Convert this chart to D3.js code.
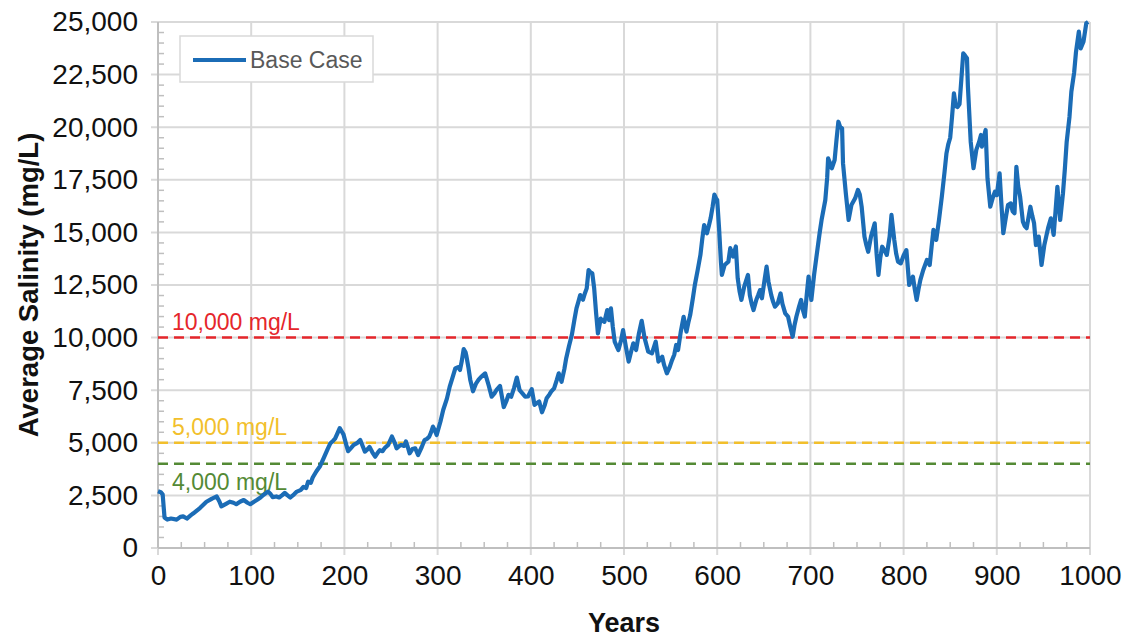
<!DOCTYPE html>
<html>
<head>
<meta charset="utf-8">
<script src="https://cdn.jsdelivr.net/npm/d3@7"></script>
<style>
  html, body { margin: 0; padding: 0; background: #fff; }
  svg { display: block; font-family: "Liberation Sans", Arial, sans-serif; }
</style>
</head>
<body>
<svg id="chart" width="1128" height="637"></svg>
<script>
// Simulated average salinity, base case
const years = [0,3,5,7,10,14,20,24,27,31,35,38,45,52,58,63,66,68,73,77,81,84,88,92,96,99,103,106,110,113,118,121,123,127,130,133,136,139,142,146,149,153,156,159,161,164,166,170,174,178,182,185,188,190,193,195,197,199,202,204,207,210,214,217,220,222,225,227,230,233,236,238,241,243,247,251,254,256,259,261,264,266,268,270,273,276,279,283,286,289,291,293,295,297,299,303,306,310,313,316,319,322,324,326,328,330,331,333,335,338,341,344,347,351,353,355,358,361,363,367,369,371,374,376,379,382,385,388,391,394,397,401,404,407,409,412,415,417,420,422,425,428,430,433,436,438,441,444,447,449,451,453,456,458,460,462,464,466,468,470,472,475,477,479,482,484,486,488,490,492,494,497,499,502,505,508,510,513,516,519,522,526,530,534,537,541,543,546,549,551,554,556,558,561,564,567,569,571,574,576,579,582,584,586,589,591,593,595,597,599,600,602,604,605,608,612,614,617,620,622,624,626,629,633,635,637,639,642,644,646,648,651,653,655,658,660,662,665,668,670,673,676,678,681,683,685,688,690,692,694,696,698,701,704,707,710,712,716,718,719,721,723,726,728,730,732,734,735,738,741,744,748,751,753,755,758,760,762,765,769,771,773,775,777,780,782,785,787,790,792,794,797,800,803,806,808,810,812,814,816,818,821,825,828,830,832,835,838,841,844,846,848,850,852,854,856,858,860,862,864,866,868,869,872,875,878,881,883,884,886,888,890,893,896,898,900,903,905,907,910,912,915,917,919,921,923,925,928,930,932,934,936,938,940,942,945,948,951,953,955,958,961,963,965,968,971,973,975,978,980,983,985,988,990,993,996,998];
const salinity = [2700,2650,2550,1450,1350,1400,1350,1480,1500,1400,1550,1650,1900,2200,2350,2450,2200,1980,2100,2200,2150,2080,2200,2280,2150,2080,2200,2280,2400,2520,2680,2550,2420,2450,2400,2500,2620,2500,2400,2550,2680,2750,2900,2850,3150,3100,3350,3650,3900,4300,4700,4980,5100,5200,5500,5700,5550,5400,4900,4600,4750,4900,5000,5130,4800,4580,4700,4800,4550,4340,4550,4650,4600,4740,4900,5300,5000,4740,4850,4900,4850,5060,4800,4500,4700,4740,4420,4800,5130,5200,5290,5500,5770,5600,5370,6000,6560,7100,7670,8100,8540,8600,8460,8900,9450,9300,9100,8600,8000,7450,7800,8000,8150,8300,8000,7700,7190,7350,7500,7700,7200,6700,7000,7280,7190,7600,8100,7500,7350,7190,7200,7550,6800,6900,6960,6450,6800,7120,7300,7440,7590,8000,8300,7900,8500,9020,9600,10120,10900,11390,11700,12020,11800,12100,12340,13210,13100,13050,12340,11200,10200,10900,10800,10750,11310,10830,11390,10500,9810,9600,9410,9900,10360,9570,8860,9400,9730,9410,10200,10800,10000,9330,9250,9810,8860,9090,8700,8300,8600,8860,9200,9650,9410,10300,10990,10280,10700,11070,11900,12500,13200,13930,14700,15350,14960,15300,15680,16200,16800,16600,16540,15200,13600,12980,13450,13610,14250,13850,14330,12820,12200,11790,12420,12980,12020,11600,11310,11800,12020,12260,11870,12800,13370,12660,12020,11700,11470,11630,12100,11600,11150,11000,10600,10040,10600,11000,11500,11790,11300,11000,12000,12900,11790,13000,14010,15000,15590,16540,17600,18520,18300,18050,18440,19400,20260,20000,19950,18280,16860,15590,16300,16620,17020,16800,16220,14800,14400,14080,14800,15430,14000,12980,13800,14320,14100,13930,14800,15830,14640,14000,13610,13530,13900,14160,12500,12700,12900,12300,11790,12300,12740,13200,13690,13450,14300,15120,14640,15600,16700,17900,18760,19200,19500,20500,21610,21000,20960,21100,22300,23510,23400,23280,21930,19310,18050,18920,19300,19630,19080,19500,19870,17570,16220,16700,16930,16770,17810,16300,14960,15800,16300,16380,16000,15910,18120,17200,16700,15510,15300,15200,15700,16220,15800,15430,14400,14800,13450,14400,14800,15200,15670,14880,16000,17170,15590,16860,18000,19310,20500,21690,22600,23590,24540,23750,24060,24940,25000];

// Reference thresholds (label offset: negative = above the line)
const thresholdValues = [10000, 5000, 4000];
const thresholdLabels = ["10,000 mg/L", "5,000 mg/L", "4,000 mg/L"];
const thresholdColors = ["#e5262b", "#f2bf2c", "#548a35"];
const thresholdLabelDy = [-8, -8, 26];

// Axis ticks
const xTicks = [0,100,200,300,400,500,600,700,800,900,1000];
const yTicks = [0,2500,5000,7500,10000,12500,15000,17500,20000,22500,25000];
const xMinor = d3.range(0, 1001, 25);
const yMinor = d3.range(0, 25001, 500);

const seriesName = "Base Case";
const xTitle = "Years";
const yTitle = "Average Salinity (mg/L)";

const svg = d3.select("#chart");
const plotLeft = 158, plotRight = 1090, plotTop = 22, plotBottom = 548;

const x = d3.scaleLinear().domain([0, 1000]).range([plotLeft, plotRight]);
const y = d3.scaleLinear().domain([0, 25000]).range([plotBottom, plotTop]);

const gridColor = "#d9d9d9";
const axisColor = "#bfbfbf";
const seriesColor = "#1b6cb6";

// Gridlines
svg.append("g")
  .selectAll("line").data(yTicks).join("line")
  .attr("x1", plotLeft - 7).attr("x2", plotRight)
  .attr("y1", d => y(d)).attr("y2", d => y(d))
  .attr("stroke", gridColor).attr("stroke-width", 2);
svg.append("g")
  .selectAll("line").data(xTicks).join("line")
  .attr("x1", d => x(d)).attr("x2", d => x(d))
  .attr("y1", plotTop).attr("y2", plotBottom + 7)
  .attr("stroke", gridColor).attr("stroke-width", 2);

// Axis lines and minor ticks
svg.append("line").attr("x1", plotLeft).attr("x2", plotLeft).attr("y1", plotTop).attr("y2", plotBottom)
  .attr("stroke", axisColor).attr("stroke-width", 2);
svg.append("line").attr("x1", plotLeft).attr("x2", plotRight).attr("y1", plotBottom).attr("y2", plotBottom)
  .attr("stroke", axisColor).attr("stroke-width", 2);
svg.append("g").selectAll("line").data(yMinor.filter(v => v % 2500 !== 0)).join("line")
  .attr("x1", plotLeft).attr("x2", plotLeft + 6)
  .attr("y1", d => y(d)).attr("y2", d => y(d))
  .attr("stroke", axisColor).attr("stroke-width", 1.5);
svg.append("g").selectAll("line").data(xMinor.filter(v => v % 100 !== 0)).join("line")
  .attr("x1", d => x(d)).attr("x2", d => x(d))
  .attr("y1", plotBottom).attr("y2", plotBottom - 6)
  .attr("stroke", axisColor).attr("stroke-width", 1.5);

// Tick labels via d3 axes
const fmt = d3.format(",");
const yAxis = svg.append("g").attr("transform", `translate(${plotLeft - 20},0)`)
  .call(d3.axisLeft(y).tickValues(yTicks).tickFormat(fmt).tickSize(0).tickPadding(0));
yAxis.select(".domain").remove();
yAxis.selectAll("text").attr("font-size", 28).attr("fill", "#111")
  .attr("font-family", "Liberation Sans, Arial, sans-serif");

const xAxis = svg.append("g").attr("transform", `translate(0,${plotBottom + 17})`)
  .call(d3.axisBottom(x).tickValues(xTicks).tickFormat(d3.format("d")).tickSize(0).tickPadding(0));
xAxis.select(".domain").remove();
xAxis.selectAll("text").attr("font-size", 28).attr("fill", "#111")
  .attr("font-family", "Liberation Sans, Arial, sans-serif");

// Threshold lines and labels
thresholdValues.forEach((v, i) => {
  svg.append("line")
    .attr("x1", plotLeft).attr("x2", plotRight)
    .attr("y1", y(v)).attr("y2", y(v))
    .attr("stroke", thresholdColors[i]).attr("stroke-width", 2.5)
    .attr("stroke-dasharray", "10,6");
  svg.append("text")
    .attr("x", plotLeft + 14).attr("y", y(v) + thresholdLabelDy[i])
    .attr("font-size", 23).attr("fill", thresholdColors[i])
    .text(thresholdLabels[i]);
});

// Base case series
const line = d3.line().x((d, i) => x(years[i])).y(d => y(d));
svg.append("path")
  .datum(salinity)
  .attr("d", line)
  .attr("fill", "none")
  .attr("stroke", seriesColor)
  .attr("stroke-width", 4.2)
  .attr("stroke-linejoin", "round");

// Legend
const lg = svg.append("g");
lg.append("rect").attr("x", 180).attr("y", 36).attr("width", 193).attr("height", 46)
  .attr("fill", "#fff").attr("stroke", gridColor).attr("stroke-width", 1.5);
lg.append("line").attr("x1", 193).attr("x2", 246).attr("y1", 60).attr("y2", 60)
  .attr("stroke", seriesColor).attr("stroke-width", 4);
lg.append("text").attr("x", 250).attr("y", 68).attr("font-size", 23)
  .attr("fill", "#595959").text(seriesName);

// Axis titles
svg.append("text").attr("x", (plotLeft + plotRight) / 2).attr("y", 632)
  .attr("text-anchor", "middle").attr("font-size", 27).attr("font-weight", "bold")
  .attr("fill", "#111").text(xTitle);
svg.append("text")
  .attr("transform", `translate(38,285) rotate(-90)`)
  .attr("text-anchor", "middle").attr("font-size", 27.5).attr("font-weight", "bold")
  .attr("fill", "#111").text(yTitle);
</script>
</body>
</html>
